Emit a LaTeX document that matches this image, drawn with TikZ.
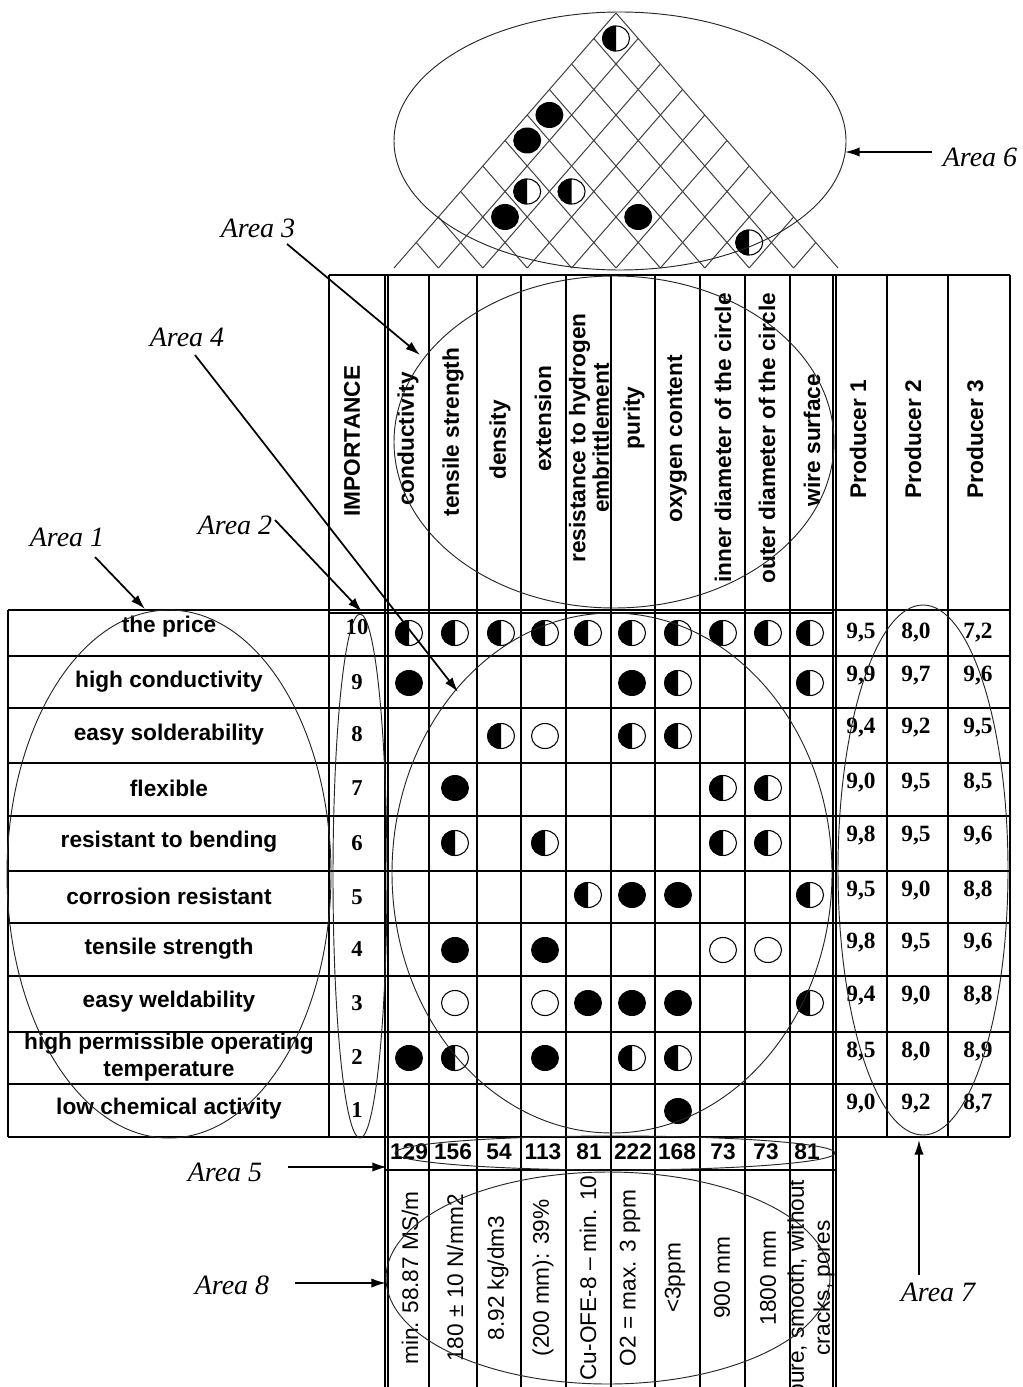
\documentclass[tikz,border=0pt]{standalone}
\usepackage{fontspec}
\setmainfont{Liberation Serif}
\setsansfont{Liberation Sans}
\usetikzlibrary{arrows.meta}
\newcommand{\SymF}[2]{\fill[black] (#1,#2) ellipse [x radius=14, y radius=13];}
\newcommand{\SymE}[2]{\draw[symline, fill=white] (#1,#2) ellipse [x radius=13.5, y radius=12.5];}
\newcommand{\SymH}[2]{%
  \fill[white] (#1,#2) ellipse [x radius=14, y radius=13];
  \begin{scope}\clip ({#1-16},{#2-16}) rectangle (#1,{#2+16});
  \fill[black] (#1,#2) ellipse [x radius=14, y radius=13];\end{scope}
  \draw[symline] (#1,#2) ellipse [x radius=13.5, y radius=12.5];}
\begin{document}
\begin{tikzpicture}[x=0.75pt,y=-0.75pt,
  grid/.style={line width=1.1pt},
  oval/.style={line width=0.7pt, draw=black!85},
  roofline/.style={line width=0.75pt, draw=black!75},
  symline/.style={line width=0.8pt},
  arealbl/.style={font=\fontsize{21}{24}\selectfont\itshape, inner sep=0pt},
  reqtxt/.style={font=\sffamily\bfseries\fontsize{17}{20}\selectfont, inner sep=0pt, align=center},
  imptxt/.style={font=\bfseries\fontsize{17}{19}\selectfont, inner sep=0pt},
  hdrtxt/.style={font=\sffamily\bfseries\fontsize{17}{17.5}\selectfont, inner sep=0pt, rotate=90, align=center},
  valtxt/.style={font=\bfseries\fontsize{17.5}{19}\selectfont, inner sep=0pt},
  sumtxt/.style={font=\sffamily\bfseries\fontsize{17}{19}\selectfont, inner sep=0pt},
  spectxt/.style={font=\sffamily\fontsize{17}{19.5}\selectfont, inner sep=0pt, rotate=90, align=center},
  arr/.style={line width=1.3pt, -{Latex[length=11pt,width=7pt]}},
]
\useasboundingbox (0,0) rectangle (1023,1387);

% ---------- table grid ----------
\draw[grid] (329,275) -- (1010,275);
\draw[grid] (8,610) -- (1010,610);
\draw[grid] (329,613) -- (833,613);
\foreach \y in {656,708,763,816,871,923,976,1032,1084,1137}
  \draw[grid] (8,\y) -- (1010,\y);
\draw[grid] (385,1170) -- (836,1170);
\draw[grid] (8,610) -- (8,1137);
\draw[grid] (329,275) -- (329,1137);
\foreach \x in {385,388,429,477,521,566,611,655,700,745,790,833,836}
  \draw[grid] (\x,275) -- (\x,1395);
\foreach \x in {887,948,1010}
  \draw[grid] (\x,275) -- (\x,1137);

% ---------- roof ----------
\foreach \i in {0,...,9}
  \draw[roofline] ({394+44.4*\i},268) -- ({(394+44.4*\i+838)/2},{268-(838-394-44.4*\i)/2*1.1486});
\foreach \j in {1,...,10}
  \draw[roofline] ({394+44.4*\j},268) -- ({(788+44.4*\j)/2},{268-(44.4*\j)/2*1.1486});
\SymH{616}{38.5}
\SymF{549.4}{115}
\SymF{527.2}{140.5}
\SymH{527.2}{191.5}
\SymH{571.6}{191.5}
\SymF{505}{217}
\SymF{638.2}{217}
\SymH{749.2}{242.5}

% ---------- headers ----------
\node[hdrtxt] (himp) at (352,441) {IMPORTANCE};
\node[hdrtxt] (h1) at (408,439) {conductivity};
\node[hdrtxt] (h2) at (453,432) {tensile strength};
\node[hdrtxt] (h3) at (500,440) {density};
\node[hdrtxt] (h4) at (543,419) {extension};
\node[hdrtxt] (h5) at (589,438) {resistance to hydrogen\\embrittlement};
\node[hdrtxt] (h6) at (634,418) {purity};
\node[hdrtxt] (h7) at (677,439) {oxygen content};
\node[hdrtxt] (h8) at (723,438) {inner diameter of the circle};
\node[hdrtxt] (h9) at (767,438) {outer diameter of the circle};
\node[hdrtxt] (h10) at (812,440) {wire surface};
\node[hdrtxt] (ph1) at (858,439) {Producer 1};
\node[hdrtxt] (ph2) at (913,439) {Producer 2};
\node[hdrtxt] (ph3) at (975,439) {Producer 3};

% ---------- requirements ----------
\node[reqtxt] (r1) at (169,627) {the price};
\node[reqtxt] (r2) at (169,682) {high conductivity};
\node[reqtxt] (r3) at (169,735) {easy solderability};
\node[reqtxt] (r4) at (169,788) {flexible};
\node[reqtxt] (r5) at (169,842) {resistant to bending};
\node[reqtxt] (r6) at (169,896) {corrosion resistant};
\node[reqtxt] (r7) at (169,949) {tensile strength};
\node[reqtxt] (r8) at (169,1002) {easy weldability};
\node[reqtxt] (r9) at (169,1057) {high permissible operating\\temperature};
\node[reqtxt] (r10) at (169,1109) {low chemical activity};

% ---------- importance ----------
\node[imptxt] (i1) at (357,627) {10};
\node[imptxt] (i2) at (357,682) {9};
\node[imptxt] (i3) at (357,734) {8};
\node[imptxt] (i4) at (357,788) {7};
\node[imptxt] (i5) at (357,843) {6};
\node[imptxt] (i6) at (357,897) {5};
\node[imptxt] (i7) at (357,949) {4};
\node[imptxt] (i8) at (357,1003) {3};
\node[imptxt] (i9) at (357,1057) {2};
\node[imptxt] (i10) at (357,1110) {1};

% ---------- relationship matrix ----------
\foreach \x in {409,455,501,545,588,632,678,723,768,810} {\SymH{\x}{633}}
\SymF{409}{683} \SymF{632}{683} \SymH{678}{683} \SymH{810}{683}
\SymH{501}{736} \SymE{545}{736} \SymH{632}{736} \SymH{678}{736}
\SymF{455}{788} \SymH{723}{788} \SymH{768}{788}
\SymH{455}{843} \SymH{545}{843} \SymH{723}{843} \SymH{768}{843}
\SymH{588}{895} \SymF{632}{895} \SymF{678}{895} \SymH{810}{895}
\SymF{455}{950} \SymF{545}{950} \SymE{723}{950} \SymE{768}{950}
\SymE{455}{1003} \SymE{545}{1003} \SymF{588}{1003} \SymF{632}{1003} \SymF{678}{1003} \SymH{810}{1003}
\SymF{409}{1058} \SymH{455}{1058} \SymF{545}{1058} \SymH{632}{1058} \SymH{678}{1058}
\SymF{678}{1111}

% ---------- producers ----------
\foreach \n/\y/\a/\b/\c in {1/633/{9,5}/{8,0}/{7,2}, 2/676/{9,9}/{9,7}/{9,6}, 3/728/{9,4}/{9,2}/{9,5},
  4/783/{9,0}/{9,5}/{8,5}, 5/836/{9,8}/{9,5}/{9,6}, 6/891/{9,5}/{9,0}/{8,8}, 7/943/{9,8}/{9,5}/{9,6},
  8/996/{9,4}/{9,0}/{8,8}, 9/1052/{8,5}/{8,0}/{8,9}, 10/1104/{9,0}/{9,2}/{8,7}} {
  \node[valtxt] (pa\n) at (861,\y) {\a};
  \node[valtxt] (pb\n) at (916,\y) {\b};
  \node[valtxt] (pc\n) at (978,\y) {\c};
}

% ---------- sums ----------
\foreach \n/\x/\v in {1/409/129, 2/453/156, 3/499/54, 4/543/113, 5/589/81, 6/633/222, 7/677/168, 8/723/73, 9/766/73, 10/807/81}
  \node[sumtxt] (s\n) at (\x,1152) {\v};

% ---------- specifications ----------
\node[spectxt] (t1) at (410,1278) {min. 58.87 MS/m};
\node[spectxt] (t2) at (455,1278) {180 ± 10 N/mm2};
\node[spectxt] (t3) at (498,1278) {8.92 kg/dm3};
\node[spectxt] (t4) at (543,1278) {(200 mm): 39\%};
\node[spectxt] (t5) at (588,1278) {Cu-OFE-8 – min. 10};
\node[spectxt] (t6) at (630,1278) {O2 = max. 3 ppm};
\node[spectxt] (t7) at (675,1278) {<3ppm};
\node[spectxt] (t8) at (722,1278) {900 mm};
\node[spectxt] (t9) at (768,1278) {1800 mm};
\node[spectxt] (t10) at (811,1288) {pure, smooth, without\\cracks, pores};

% ---------- area ellipses ----------
\draw[oval] (620,141) ellipse [x radius=226, y radius=129];
\draw[oval] (614,442) ellipse [x radius=220, y radius=166];
\draw[oval] (612,873) ellipse [x radius=220, y radius=260];
\draw[oval] (169,874) ellipse [x radius=162, y radius=264];
\draw[oval] (360,876) ellipse [x radius=27, y radius=262];
\draw[oval] (923,870) ellipse [x radius=85, y radius=265];
\draw[oval] (615,1153) ellipse [x radius=220, y radius=17];
\draw[oval] (608,1278) ellipse [x radius=222, y radius=106];

% ---------- area labels and arrows ----------
\node[arealbl] (a1) at (67,537) {Area 1};
\node[arealbl] (a2) at (235,525) {Area 2};
\node[arealbl] (a3) at (258,228) {Area 3};
\node[arealbl] (a4) at (187,337) {Area 4};
\node[arealbl] (a5) at (225,1172) {Area 5};
\node[arealbl] (a6) at (980,157) {Area 6};
\node[arealbl] (a7) at (938,1292) {Area 7};
\node[arealbl] (a8) at (232,1285) {Area 8};

\coordinate (a1s) at (95,557);   \coordinate (a1e) at (145,609);
\coordinate (a2s) at (275,520);  \coordinate (a2e) at (362,612);
\coordinate (a3s) at (287,244);  \coordinate (a3e) at (420,355);
\coordinate (a4s) at (195,355);  \coordinate (a4e) at (458,692);
\coordinate (a5s) at (288,1167); \coordinate (a5e) at (387,1167);
\coordinate (a6s) at (932,152);  \coordinate (a6e) at (845,152);
\coordinate (a7s) at (919,1275); \coordinate (a7e) at (919,1140);
\coordinate (a8s) at (295,1283); \coordinate (a8e) at (386,1283);
\foreach \k in {1,...,8} \draw[arr] (a\k s) -- (a\k e);
\end{tikzpicture}
\end{document}
